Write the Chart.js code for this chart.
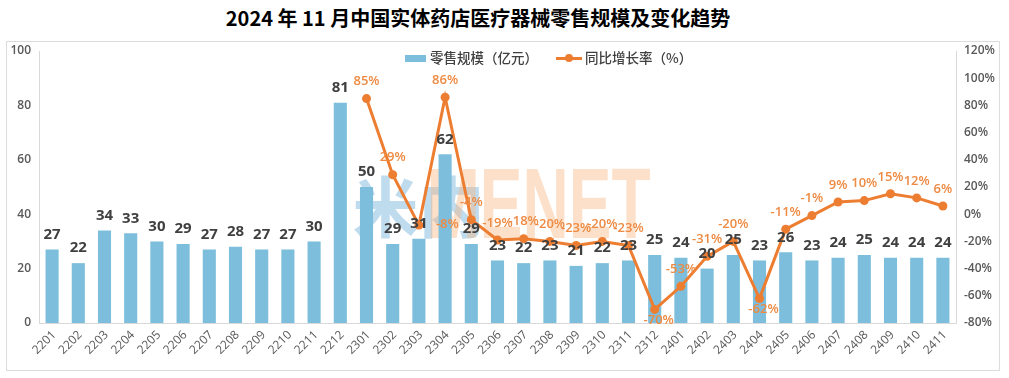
<!DOCTYPE html>
<html>
<head>
<meta charset="utf-8">
<script src="https://cdn.jsdelivr.net/npm/chart.js@4.4.1/dist/chart.umd.min.js"></script>
<style>
  html, body { margin:0; padding:0; background:#fff; }
  #wrap { position:relative; width:1009px; height:378px; overflow:hidden; }
  #title { position:absolute; left:0; top:4px; width:956px; text-align:center;
           font-family:"Noto Sans CJK SC", sans-serif; font-weight:700; font-size:20px; color:#000; line-height:28px; }
  #box { position:absolute; left:6px; top:41px; width:992px; height:328px; border:1px solid #dcdcdc; box-sizing:content-box; }
  #chart { position:absolute; left:0; top:0; }
  .lg { position:absolute; top:48px; font-family:"Noto Sans CJK SC", sans-serif; font-size:13.5px; font-weight:500; color:#404040; line-height:18px; white-space:nowrap; }
</style>
</head>
<body>
<div id="wrap">
  <div id="box"></div>
  <div id="title">2024 年 11 月中国实体药店医疗器械零售规模及变化趋势</div>
  <canvas id="chart" width="1009" height="378"></canvas>
  <div class="lg" style="left:405px;"><span style="display:inline-block;width:21px;height:7px;background:#7CBEDB;vertical-align:middle;margin-right:4px;position:relative;top:-1px;"></span>零售规模（亿元）</div>
  <div class="lg" style="left:556px;"><span style="display:inline-block;width:26px;height:10px;vertical-align:middle;margin-right:3px;position:relative;top:-1px;"><span style="position:absolute;left:0;top:4px;width:26px;height:3px;background:#ED7D31;"></span><span style="position:absolute;left:9px;top:1px;width:8px;height:8px;border-radius:50%;background:#ED7D31;"></span></span>同比增长率（%）</div>
</div>
<script>
// ---- data ----
const months = ['2201','2202','2203','2204','2205','2206','2207','2208','2209','2210','2211','2212',
                '2301','2302','2303','2304','2305','2306','2307','2308','2309','2310','2311','2312',
                '2401','2402','2403','2404','2405','2406','2407','2408','2409','2410','2411'];
const retailScale = [27,22,34,33,30,29,27,28,27,27,30,81,
                     50,29,31,62,29,23,22,23,21,22,23,25,
                     24,20,25,23,26,23,24,25,24,24,24];
const yoyGrowth = [null,null,null,null,null,null,null,null,null,null,null,null,
                   85,29,-8,86,-4,-19,-18,-20,-23,-20,-23,-70,
                   -53,-31,-20,-62,-11,-1,9,10,15,12,6];
const leftTicks = [0,20,40,60,80,100];
const rightTicks = [-80,-60,-40,-20,0,20,40,60,80,100,120];

// label placement style (not data)
const growthLabelAlign = { '2303':'right', '2312':'below', '2404':'below' };

const BLUE = '#7CBEDB', ORANGE = '#ED7D31';

const watermark = {
  id:'watermark',
  beforeDatasetsDraw(chart){
    const ctx = chart.ctx;
    const xs = chart.scales.x;
    const x0 = xs.getPixelForValue(12) - 14;   // near 2301
    ctx.save();
    ctx.globalAlpha = 0.4;
    ctx.fillStyle = '#5EA8D6';
    ctx.font = 'bold 66px "Noto Sans CJK SC", sans-serif';
    ctx.textBaseline = 'alphabetic';
    ctx.textAlign = 'left';
    ctx.fillText('米内', x0, 232);
    ctx.fillStyle = '#F7B27A';
    ctx.translate(x0 + 74, 238);
    ctx.scale(0.64, 1);
    ctx.font = 'bold 100px "Liberation Sans", Arial, sans-serif';
    ctx.fillText('MENET', 0, 0);
    ctx.restore();
  }
};

const xLabels = {
  id:'xLabels',
  afterDraw(chart){
    const ctx = chart.ctx;
    const xs = chart.scales.x;
    ctx.save();
    ctx.font = '12px "Open Sans", sans-serif';
    ctx.fillStyle = '#595959';
    ctx.textAlign = 'right';
    ctx.textBaseline = 'middle';
    months.forEach((m, i) => {
      const x = xs.getPixelForValue(i);
      ctx.save();
      ctx.translate(x + 2, xs.top + 10);
      ctx.rotate(-Math.PI / 4);
      ctx.fillText(m, 0, 0);
      ctx.restore();
    });
    ctx.restore();
  }
};

const valueLabels = {
  id:'valueLabels',
  afterDatasetsDraw(chart){
    const ctx = chart.ctx;
    ctx.save();
    ctx.textAlign = 'center';
    ctx.textBaseline = 'middle';
    // bar labels
    ctx.font = 'bold 15px "Open Sans", sans-serif';
    ctx.fillStyle = '#404040';
    chart.getDatasetMeta(0).data.forEach((el, i) => {
      const v = retailScale[i];
      if (v == null) return;
      ctx.fillText(String(Math.round(v)), el.x, el.y - 15);
    });
    // line labels
    ctx.font = '600 13px "Open Sans", sans-serif';
    ctx.fillStyle = '#EE8A42';
    chart.getDatasetMeta(1).data.forEach((el, i) => {
      const v = yoyGrowth[i];
      if (v == null) return;
      const t = Math.round(v) + '%';
      const a = growthLabelAlign[months[i]] || 'above';
      if (a === 'right') { ctx.textAlign = 'left'; ctx.fillText(t, el.x + 17, el.y - 1); }
      else if (a === 'below') { ctx.textAlign = 'center'; ctx.fillText(t, el.x + 4, el.y + 11); }
      else { ctx.textAlign = 'center'; ctx.fillText(t, el.x, el.y - 17); }
    });
    ctx.restore();
  }
};

const tickFont = { family:'"Open Sans", sans-serif', size:12, weight:'600' };

new Chart(document.getElementById('chart'), {
  type:'bar',
  data: {
    labels: months,
    datasets: [
      { type:'bar', label:'零售规模（亿元）', data: retailScale, yAxisID:'y',
        backgroundColor: BLUE, borderWidth:0, barPercentage:0.5, categoryPercentage:1, order:2 },
      { type:'line', label:'同比增长率（%）', data: yoyGrowth, yAxisID:'y1',
        borderColor: ORANGE, backgroundColor: ORANGE, borderWidth:3, pointRadius:4.5,
        pointBackgroundColor: ORANGE, pointBorderWidth:0, tension:0, spanGaps:false, order:1 }
    ]
  },
  options: {
    responsive:false, animation:false, devicePixelRatio:1,
    layout: { padding: { top:51, left:0, right:0, bottom:0 } },
    plugins: { legend:{ display:false }, title:{ display:false }, tooltip:{ enabled:false } },
    scales: {
      x: {
        type:'category', offset:true,
        grid:{ display:false, drawTicks:false },
        border:{ display:true, color:'#d9d9d9', width:1 },
        ticks:{ display:false },
        afterFit(s){ s.height = 55; }
      },
      y: {
        position:'left', min:0, max:100,
        afterBuildTicks(s){ s.ticks = leftTicks.map(v => ({ value:v })); },
        grid:{ display:false, drawTicks:false },
        border:{ display:true, color:'#d9d9d9', width:1 },
        ticks:{ font:tickFont, color:'#595959', padding:8 },
        afterFit(s){ s.width = 39; }
      },
      y1: {
        position:'right', min:-80, max:120,
        afterBuildTicks(s){ s.ticks = rightTicks.map(v => ({ value:v })); },
        grid:{ display:false, drawTicks:false },
        border:{ display:true, color:'#d9d9d9', width:1 },
        ticks:{ font:tickFont, color:'#595959', padding:8, callback: v => v + '%' },
        afterFit(s){ s.width = 53; }
      }
    }
  },
  plugins:[watermark, valueLabels, xLabels]
});
</script>
</body>
</html>
